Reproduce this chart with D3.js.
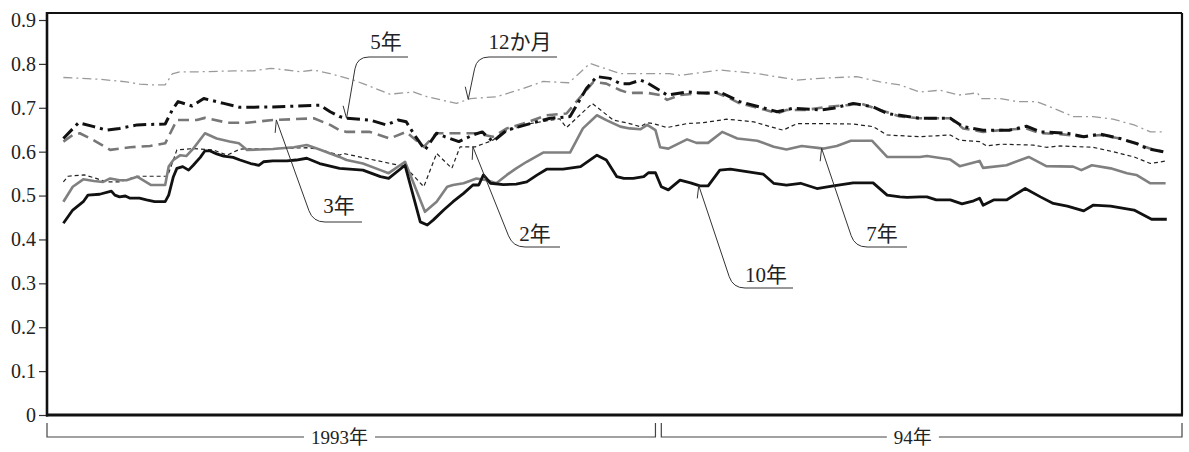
<!DOCTYPE html>
<html>
<head>
<meta charset="utf-8">
<script src="https://cdn.jsdelivr.net/npm/d3@7"></script>
<style>
  body { margin: 0; background: #fff; }
  text { font-family: "Liberation Serif", "DejaVu Serif", serif, "Noto Sans CJK JP"; fill: #222; }
</style>
</head>
<body>
<div id="chart"></div>
<script>
// values: [week since start of 1993, rate]
const twelveMonth = [[1.4,.769],[4.5,.765],[6.8,.759],[7.9,.754],[9.2,.752],[10.1,.752],[10.7,.777],[11.4,.782],[13.1,.782],[15.9,.784],[17.6,.784],[19.1,.790],[20.2,.787],[21.6,.782],[22.8,.786],[24.2,.778],[26.2,.763],[27.0,.755],[29.3,.731],[31.3,.736],[32.5,.725],[35.0,.710],[36.2,.721],[38.4,.725],[40.7,.744],[42.4,.760],[44.6,.757],[46.4,.801],[48.1,.786],[49.0,.778],[53.2,.778],[54.1,.774],[57.5,.786],[60.7,.778],[64.1,.763],[66.1,.767],[69.2,.771],[71.2,.759],[72.9,.752],[74.6,.736],[76.3,.740],[77.9,.729],[79.5,.734],[79.9,.721],[81.5,.721],[82.9,.714],[84.6,.714],[86.3,.696],[87.7,.680],[89.4,.680],[91.1,.674],[92.9,.661],[94.3,.645],[95.4,.645]];

const fiveYear = [[1.4,.630],[2.7,.666],[4.0,.657],[5.1,.649],[6.2,.653],[7.7,.661],[10.1,.663],[10.7,.695],[11.2,.714],[12.4,.704],[13.4,.721],[15.1,.710],[16.5,.701],[19.3,.702],[23.3,.706],[24.2,.691],[25.0,.680],[25.6,.676],[27.6,.672],[29.0,.661],[30.0,.672],[30.7,.668],[31.5,.634],[32.3,.604],[33.3,.642],[34.0,.634],[35.2,.623],[36.4,.638],[37.2,.645],[38.1,.623],[39.3,.649],[41.3,.664],[43.0,.676],[44.7,.680],[46.1,.744],[47.0,.771],[48.1,.767],[49.0,.755],[49.8,.755],[50.7,.763],[51.3,.757],[52.1,.744],[53.0,.729],[54.7,.736],[56.4,.733],[57.5,.736],[59.2,.714],[60.9,.702],[62.4,.691],[63.8,.699],[66.1,.695],[67.2,.699],[68.9,.710],[70.6,.702],[71.8,.687],[74.6,.676],[77.2,.676],[78.3,.657],[80.0,.649],[82.3,.649],[83.7,.658],[84.9,.645],[87.2,.642],[88.6,.634],[90.0,.640],[91.7,.630],[93.1,.619],[94.0,.607],[95.4,.600]];

const threeYear = [[1.4,.623],[2.2,.638],[2.8,.642],[4.0,.626],[5.4,.604],[7.1,.610],[8.8,.613],[10.1,.619],[11.1,.672],[12.8,.672],[13.5,.677],[15.4,.666],[17.1,.666],[19.3,.672],[22.8,.676],[24.2,.661],[25.0,.649],[25.6,.645],[27.6,.645],[29.3,.630],[30.7,.645],[32.2,.611],[33.3,.642],[36.7,.642],[38.1,.634],[39.3,.653],[40.7,.664],[42.7,.683],[44.4,.687],[45.6,.725],[46.7,.759],[47.8,.755],[49.0,.740],[49.8,.733],[50.1,.734],[51.3,.734],[52.4,.729],[53.0,.718],[54.1,.729],[55.8,.733],[57.0,.736],[58.1,.725],[59.2,.710],[60.9,.699],[62.4,.687],[63.2,.695],[64.9,.695],[66.6,.702],[68.4,.706],[69.5,.710],[71.2,.695],[72.9,.680],[74.6,.676],[77.2,.676],[78.3,.653],[80.0,.645],[81.5,.649],[83.7,.653],[84.9,.642],[86.6,.640],[88.6,.634],[90.0,.638],[91.7,.630],[93.4,.615],[94.6,.604],[95.4,.600]];

const twoYear = [[1.4,.531],[1.8,.544],[3.2,.547],[4.2,.539],[5.1,.531],[6.2,.531],[7.7,.544],[10.3,.544],[11.1,.604],[12.5,.607],[14.2,.604],[15.4,.592],[16.5,.606],[19.3,.607],[22.2,.609],[23.3,.605],[25.0,.592],[25.3,.596],[30.6,.566],[32.2,.520],[33.3,.596],[34.6,.562],[35.3,.611],[36.6,.611],[38.1,.626],[39.0,.645],[41.3,.664],[43.8,.675],[44.4,.655],[46.6,.710],[48.4,.672],[49.8,.664],[50.7,.657],[51.3,.666],[51.8,.664],[53.0,.655],[54.7,.664],[56.1,.666],[58.1,.674],[60.4,.668],[61.8,.657],[62.9,.649],[64.1,.664],[66.1,.664],[68.9,.663],[70.6,.657],[71.8,.638],[74.6,.634],[75.2,.635],[77.2,.638],[78.0,.626],[79.7,.623],[80.3,.613],[81.5,.617],[84.3,.615],[85.4,.610],[86.6,.613],[89.4,.610],[91.1,.600],[92.9,.588],[94.3,.573],[95.7,.579]];

const sevenYear = [[1.4,.486],[2.2,.520],[3.1,.537],[4.0,.533],[4.8,.531],[5.4,.539],[6.2,.535],[6.8,.535],[7.7,.543],[8.2,.535],[8.9,.524],[10.1,.524],[10.4,.566],[10.8,.581],[11.4,.592],[11.9,.590],[12.5,.607],[13.5,.642],[14.5,.630],[15.6,.623],[16.4,.619],[17.1,.604],[18.2,.605],[19.3,.606],[21.1,.610],[22.2,.615],[23.3,.605],[24.2,.596],[25.0,.588],[25.6,.581],[27.0,.573],[28.5,.558],[29.2,.551],[30.6,.577],[32.3,.463],[33.3,.486],[34.2,.520],[34.7,.524],[35.6,.528],[36.7,.539],[37.6,.535],[38.4,.528],[39.3,.547],[40.1,.562],[41.0,.577],[42.4,.598],[44.7,.598],[45.8,.653],[47.0,.683],[47.8,.672],[49.0,.657],[49.8,.653],[50.7,.651],[51.3,.661],[52.0,.649],[52.4,.610],[53.1,.607],[54.7,.628],[55.5,.620],[56.5,.620],[57.7,.645],[59.0,.630],[60.7,.625],[62.1,.611],[63.2,.605],[64.5,.613],[66.4,.607],[67.5,.613],[68.7,.625],[70.5,.625],[71.8,.588],[74.6,.588],[75.2,.590],[77.2,.582],[78.0,.567],[79.7,.579],[80.0,.563],[82.0,.569],[83.9,.588],[85.4,.567],[87.7,.566],[88.4,.558],[89.3,.569],[90.9,.562],[92.3,.551],[93.1,.547],[94.3,.528],[95.6,.528]];

const tenYear = [[1.4,.437],[2.2,.467],[3.1,.486],[3.5,.501],[4.5,.503],[5.5,.510],[5.8,.501],[6.2,.497],[6.7,.499],[7.1,.494],[7.9,.494],[8.5,.490],[9.2,.486],[10.1,.486],[10.4,.501],[10.8,.543],[11.1,.562],[11.6,.566],[12.1,.558],[12.5,.569],[13.1,.587],[13.5,.602],[13.9,.602],[14.5,.595],[15.1,.590],[15.9,.587],[16.5,.581],[17.4,.573],[18.1,.569],[18.5,.577],[19.3,.579],[20.5,.579],[21.3,.581],[22.2,.585],[23.3,.573],[25.0,.562],[27.0,.558],[28.5,.543],[29.2,.539],[30.6,.569],[31.9,.440],[32.5,.433],[33.0,.444],[33.9,.467],[34.7,.486],[35.6,.505],[36.4,.524],[36.9,.524],[37.3,.547],[37.9,.528],[39.0,.525],[40.1,.526],[41.0,.531],[41.9,.547],[42.7,.560],[44.1,.560],[45.6,.566],[47.0,.592],[47.8,.581],[48.7,.543],[49.3,.539],[50.1,.539],[51.0,.543],[51.4,.552],[52.0,.552],[52.5,.520],[53.1,.513],[54.1,.535],[55.0,.529],[55.8,.522],[56.5,.522],[57.5,.558],[58.4,.560],[61.2,.549],[62.1,.528],[63.2,.524],[64.4,.528],[65.8,.516],[67.2,.522],[68.9,.529],[70.6,.529],[71.8,.501],[72.9,.497],[73.5,.496],[74.6,.497],[75.2,.497],[76.0,.490],[77.2,.490],[78.2,.481],[79.2,.488],[79.7,.494],[80.0,.478],[80.9,.490],[82.0,.490],[83.6,.516],[84.9,.497],[86.0,.482],[87.2,.476],[88.6,.465],[89.4,.478],[90.9,.476],[92.9,.467],[94.4,.446],[95.7,.446]];

const yTicks = [0, 0.1, 0.2, 0.3, 0.4, 0.5, 0.6, 0.7, 0.8, 0.9];
const yearSpans = [
  { label: "1993年", from: 0, to: 52, at: 25 },
  { label: "94年", from: 52.5, to: 97, at: 74 }
];

// drawing order: bottom to top
const series = [
  { name: "12か月", data: twelveMonth, color: "#9a9a9a", width: 1.3, dash: "9,4,2,4" },
  { name: "3年", data: threeYear, color: "#777", width: 2.6, dash: "11,6" },
  { name: "2年", data: twoYear, color: "#222", width: 1.2, dash: "4,3" },
  { name: "7年", data: sevenYear, color: "#808080", width: 2.6, dash: null },
  { name: "10年", data: tenYear, color: "#111", width: 2.8, dash: null },
  { name: "5年", data: fiveYear, color: "#111", width: 3, dash: "13,5,3,5" }
];

// leader labels: tip sits on the series at week `tip`
const notes = [
  { name: "5年", tip: 25.6, tx: 386, ty: 49, ux0: 357, ux1: 408, uy: 57 },
  { name: "12か月", tip: 36.0, tx: 520, ty: 49, ux0: 477, ux1: 557, uy: 57 },
  { name: "3年", tip: 19.6, tx: 339, ty: 213, ux0: 313, ux1: 362, uy: 222 },
  { name: "2年", tip: 36.4, tx: 535, ty: 241, ux0: 513, ux1: 560, uy: 247 },
  { name: "7年", tip: 66.2, tx: 882, ty: 241, ux0: 855, ux1: 907, uy: 247 },
  { name: "10年", tip: 55.7, tx: 766, ty: 282, ux0: 733, ux1: 793, uy: 288 }
];

const width = 1189, height = 452;
const plot = { left: 47, right: 1182, top: 13, bottom: 415 };
const serifFont = '"Liberation Serif", "DejaVu Serif", serif, "Noto Sans CJK JP"';

const svg = d3.select("#chart").append("svg")
    .attr("width", width)
    .attr("height", height)
    .style("background", "#fff");

const x = d3.scaleLinear().domain([0, 97]).range([plot.left, plot.right]);
const y = d3.scaleLinear().domain([0, 0.9]).range([plot.bottom, 20]);

// y axis ticks and labels
const yAxis = svg.append("g")
    .attr("transform", `translate(${plot.left},0)`)
    .call(d3.axisLeft(y).tickValues(yTicks).tickSize(8).tickPadding(3)
        .tickFormat(d => d === 0 ? "0" : d3.format(".1f")(d)));
yAxis.attr("font-family", null);
yAxis.select(".domain").remove();
yAxis.selectAll(".tick line").attr("stroke", "#333").attr("stroke-width", 1.2);
yAxis.selectAll(".tick text")
    .attr("font-size", 20)
    .attr("fill", "#222")
    .style("font-family", serifFont);

// frame
svg.append("line").attr("x1", plot.left).attr("x2", plot.right).attr("y1", plot.top).attr("y2", plot.top)
    .attr("stroke", "#111").attr("stroke-width", 2.2);
svg.append("line").attr("x1", plot.right).attr("x2", plot.right).attr("y1", plot.top).attr("y2", plot.bottom)
    .attr("stroke", "#111").attr("stroke-width", 2.2);
svg.append("line").attr("x1", plot.left).attr("x2", plot.left).attr("y1", plot.top - 1).attr("y2", plot.bottom + 1.5)
    .attr("stroke", "#111").attr("stroke-width", 2.6);
svg.append("line").attr("x1", plot.left - 1).attr("x2", plot.right + 1).attr("y1", plot.bottom).attr("y2", plot.bottom)
    .attr("stroke", "#111").attr("stroke-width", 3);

// series lines
const line = d3.line().x(d => x(d[0])).y(d => y(d[1]));
svg.append("g")
    .selectAll("path")
    .data(series)
    .join("path")
    .attr("d", d => line(d.data))
    .attr("fill", "none")
    .attr("stroke", d => d.color)
    .attr("stroke-width", d => d.width)
    .attr("stroke-dasharray", d => d.dash)
    .attr("stroke-linejoin", "round");

// value of a series at a given week
function valueAt(data, w) {
  const i = d3.bisector(d => d[0]).left(data, w);
  if (i <= 0) return data[0][1];
  if (i >= data.length) return data[data.length - 1][1];
  const a = data[i - 1], b = data[i];
  return a[1] + (b[1] - a[1]) * (w - a[0]) / (b[0] - a[0]);
}

// leader labels
const noteG = svg.append("g");
notes.forEach(n => {
  const s = series.find(d => d.name === n.name);
  const px = x(n.tip), py = y(valueAt(s.data, n.tip));
  const dx = px - n.ux0, dy = py - n.uy;
  const len = Math.hypot(dx, dy), r = 12;
  const cx = n.ux0 + dx / len * r, cy = n.uy + dy / len * r;
  noteG.append("path")
      .attr("d", `M${n.ux1},${n.uy} L${n.ux0 + r},${n.uy} Q${n.ux0},${n.uy} ${cx},${cy} L${px},${py}`)
      .attr("fill", "none")
      .attr("stroke", "#333")
      .attr("stroke-width", 1);
  // barb: leader direction from the tip, turned toward the left
  const ang = Math.atan2(n.uy - py, n.ux0 - px);
  const turn = (n.uy > py ? 1 : -1) * 25 * Math.PI / 180;
  const b = ang + turn;
  noteG.append("line")
      .attr("x1", px).attr("y1", py)
      .attr("x2", px + Math.cos(b) * 13).attr("y2", py + Math.sin(b) * 13)
      .attr("stroke", "#333")
      .attr("stroke-width", 1);
  noteG.append("text")
      .attr("x", n.tx)
      .attr("y", n.ty)
      .attr("text-anchor", "middle")
      .attr("font-size", 21)
      .style("font-family", serifFont)
      .text(n.name);
});

// year brackets under the axis
const by = 437, bTop = 423;
yearSpans.forEach(span => {
  const g = svg.append("g");
  const t = g.append("text")
      .attr("x", x(span.at))
      .attr("y", by + 7)
      .attr("text-anchor", "middle")
      .attr("font-size", 19)
      .style("font-family", serifFont)
      .text(span.label);
  const tw = t.node().getComputedTextLength();
  const x0 = x(span.from), x1 = x(span.to), c = x(span.at);
  g.append("path")
      .attr("d", `M${x0},${bTop} L${x0},${by} L${c - tw / 2 - 7},${by} M${c + tw / 2 + 7},${by} L${x1},${by} L${x1},${bTop}`)
      .attr("fill", "none")
      .attr("stroke", "#444")
      .attr("stroke-width", 1.2);
});
</script>
</body>
</html>
